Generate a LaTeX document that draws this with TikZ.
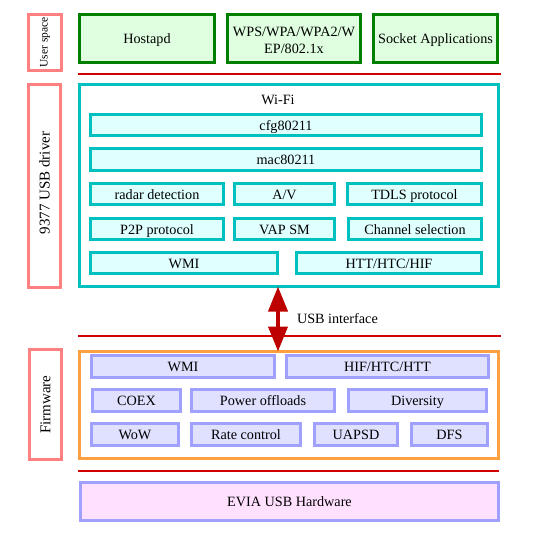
\documentclass[tikz,border=0pt]{standalone}
\usepackage{fontspec}
\setmainfont{Liberation Serif}
\usetikzlibrary{arrows.meta}
\definecolor{grnB}{RGB}{0,128,0}
\definecolor{grnF}{RGB}{224,255,224}
\definecolor{cyB}{RGB}{0,192,192}
\definecolor{cyF}{RGB}{224,255,255}
\definecolor{lvB}{RGB}{160,160,255}
\definecolor{lvF}{RGB}{224,224,255}
\definecolor{pkF}{RGB}{255,224,255}
\definecolor{sideB}{RGB}{255,128,128}
\definecolor{orB}{RGB}{255,160,64}
\definecolor{redL}{RGB}{210,0,0}
\tikzset{
  base/.style={rectangle, line width=3pt, inner sep=0pt, outer sep=0pt, align=center, font=\fontsize{14.2}{17}\selectfont},
  oneline/.style={text height=11.5pt, text depth=1pt},
  userbox/.style={base, draw=grnB, fill=grnF},
  cybox/.style={base, oneline, draw=cyB, fill=cyF},
  lvbox/.style={base, oneline, draw=lvB, fill=lvF},
  hwbox/.style={base, oneline, draw=lvB, fill=pkF},
  sidebox/.style={base, draw=sideB, fill=white},
  wifibox/.style={base, draw=cyB, fill=white},
  fwbox/.style={base, draw=orB, fill=white},
  sep/.style={draw=redL, line width=1.3pt},
  usbarrow/.style={draw=redL!90!black, line width=4pt, {Triangle[width=19pt,length=25pt]}-{Triangle[width=19pt,length=25pt]}},
  sidelabel/.style={rotate=90, font=\fontsize{15}{17}\selectfont},
}
\begin{document}
\begin{tikzpicture}[x=1pt,y=-1pt]
\useasboundingbox (0,0) rectangle (538,536);
% user space
\node[sidebox, minimum width=33, minimum height=56] (us) at (45,42.5) {};
\node[sidelabel, font=\fontsize{11.5}{13}\selectfont] (usl) at (us.center) {User space};
\node[userbox, oneline, minimum width=135, minimum height=48] (hostapd) at (147,38.5) {Hostapd};
\node[userbox, minimum width=133, minimum height=48] (wps) at (294,38.5) {};
\node[base] (wpsl) at (294,40.5) {WPS/WPA/WPA2/W\\EP/802.1x};
\node[userbox, oneline, minimum width=124, minimum height=48] (sock) at (435.5,38.5) {Socket Applications};
\draw[sep] (78,74) -- (501,74);
% driver
\node[sidebox, minimum width=32, minimum height=203] (drv) at (44.5,186) {};
\node[sidelabel] (drvl) at (44.5,183) {9377 USB driver};
\node[wifibox, minimum width=419, minimum height=202] (wifi) at (289,185.5) {};
\node[base, oneline] (wifil) at (278,99) {Wi-Fi};
\node[cybox, minimum width=391, minimum height=21] (cfg) at (286,125) {cfg80211};
\node[cybox, minimum width=391, minimum height=22] (mac) at (286,159.5) {mac80211};
\node[cybox, minimum width=133, minimum height=21] (radar) at (157,194) {radar detection};
\node[cybox, minimum width=100, minimum height=21] (av) at (284.5,194) {A/V};
\node[cybox, minimum width=134, minimum height=21] (tdls) at (414.5,194) {TDLS protocol};
\node[cybox, minimum width=133, minimum height=21] (p2p) at (157,229) {P2P protocol};
\node[cybox, minimum width=100, minimum height=21] (vap) at (284.5,229) {VAP SM};
\node[cybox, minimum width=133, minimum height=21] (chan) at (415,229) {Channel selection};
\node[cybox, minimum width=187, minimum height=21] (wmi) at (184,263) {WMI};
\node[cybox, minimum width=185, minimum height=21] (htt) at (389,263) {HTT/HTC/HIF};
% USB interface
\coordinate (ax) at (278,0);
\node[base, oneline, anchor=west] (usbl) at (297,318) {USB interface};
\draw[sep] (78,336) -- (501,336);
% firmware
\node[sidebox, minimum width=32, minimum height=110] (fwside) at (45.5,404.5) {};
\node[sidelabel] (fwl) at (fwside.center) {Firmware};
\node[fwbox, minimum width=419, minimum height=107] (fw) at (289,405) {};
\draw[usbarrow] (wifi.south -| ax) -- (fw.north -| ax);
\node[lvbox, minimum width=183, minimum height=22] (fwmi) at (183,366.5) {WMI};
\node[lvbox, minimum width=202, minimum height=22] (hif) at (387.5,366.5) {HIF/HTC/HTT};
\node[lvbox, minimum width=88, minimum height=22] (coex) at (136.5,400.5) {COEX};
\node[lvbox, minimum width=143, minimum height=22] (power) at (263,400.5) {Power offloads};
\node[lvbox, minimum width=138, minimum height=22] (div) at (417.5,400.5) {Diversity};
\node[lvbox, minimum width=87, minimum height=22] (wow) at (135,434.5) {WoW};
\node[lvbox, minimum width=109, minimum height=22] (rate) at (246,434.5) {Rate control};
\node[lvbox, minimum width=83, minimum height=22] (uapsd) at (356,434.5) {UAPSD};
\node[lvbox, minimum width=76, minimum height=22] (dfs) at (449.5,434.5) {DFS};
\draw[sep] (78,471) -- (499,471);
% hardware
\node[hwbox, minimum width=418, minimum height=38] (hw) at (289.5,501.5) {EVIA USB Hardware};
\end{tikzpicture}
\end{document}
